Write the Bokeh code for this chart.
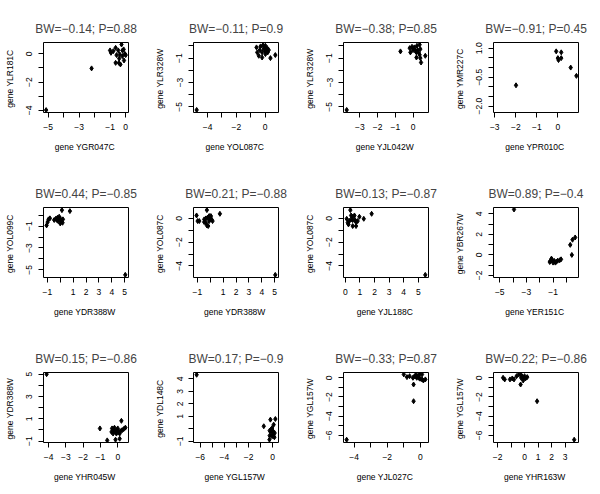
from bokeh.plotting import figure
from bokeh.layouts import column, row
from bokeh.models import Range1d, FixedTicker
from bokeh.embed import file_html
from bokeh.resources import INLINE

MINUS = "\u2212"
FONT = "Liberation Sans"

# ---------------- data ----------------
titles = ["BW=-0.14; P=0.88", "BW=-0.11; P=0.9", "BW=-0.38; P=0.85", "BW=-0.91; P=0.45",
          "BW=0.44; P=-0.85", "BW=0.21; P=-0.88", "BW=0.13; P=-0.87", "BW=0.89; P=-0.4",
          "BW=0.15; P=-0.86", "BW=0.17; P=-0.9", "BW=-0.33; P=0.87", "BW=0.22; P=-0.86"]
xlabels = ["gene  YGR047C", "gene  YOL087C", "gene  YJL042W", "gene  YPR010C",
           "gene  YDR388W", "gene  YDR388W", "gene  YJL188C", "gene  YER151C",
           "gene  YHR045W", "gene  YGL157W", "gene  YJL027C", "gene  YHR163W"]
ylabels = ["gene  YLR181C", "gene  YLR328W", "gene  YLR328W", "gene  YMR227C",
           "gene  YOL099C", "gene  YOL087C", "gene  YOL087C", "gene  YBR267W",
           "gene  YDR388W", "gene  YDL148C", "gene  YGL157W", "gene  YGL157W"]

p1_x = [-5.13, -2.20, -1.01, -0.95, -0.80, -0.65, -0.48, -0.27, -0.13, -0.06, -0.38, -0.59, -0.21, 0.00, -0.42, -0.65, -0.44, -0.34, -0.11, -0.21]
p1_y = [-3.98, -1.03, 0.24, 0.07, 0.19, 0.42, 0.24, 0.66, 0.31, 0.00, -0.05, -0.09, -0.16, -0.09, -0.33, -0.64, -0.64, -0.75, -0.47, 0.24]
p2_x = [-4.76, -0.60, -0.32, -0.14, 0.02, 0.14, 0.25, -0.09, -0.37, -0.55, -0.21, 0.02, 0.18, -0.44, -0.21, 0.02, 0.37, 0.71, -0.05, 0.09]
p2_y = [-5.25, -0.12, -0.04, 0.07, 0.01, -0.18, -0.34, -0.26, -0.34, -0.53, -0.53, -0.45, -0.53, -0.81, -0.95, -0.67, -1.00, -0.75, -0.12, -0.34]
p3_x = [-3.74, -0.71, -0.19, -0.06, 0.07, 0.22, 0.37, 0.41, 0.26, 0.13, -0.15, 0.00, 0.19, 0.32, 0.37, 0.19, 0.41, 0.69, 0.45, 0.04]
p3_y = [-5.25, -0.45, -0.18, -0.07, -0.12, 0.01, 0.10, -0.26, -0.34, -0.40, -0.53, -0.34, -0.53, -0.53, -0.73, -0.95, -1.00, -0.81, -1.36, -0.21]
p4_x = [-1.99, -0.08, 0.16, 0.00, 0.03, 0.16, 0.61, 0.88]
p4_y = [-0.92, 0.84, 0.79, 0.49, 0.39, 0.49, 0.00, -0.43]
p5_x = [5.05, -1.06, -0.98, -0.91, -0.80, -0.47, -0.34, -0.21, -0.08, 0.00, 0.10, 0.18, -0.16, -0.26, 0.05, 0.13, 0.75, -0.05, 0.21, 0.00]
p5_y = [-5.45, -0.94, -0.64, -0.39, -0.30, -0.45, -0.33, -0.24, -0.15, -0.33, -0.55, -0.70, -0.55, -0.45, -0.45, 0.45, 0.36, -0.39, -0.39, -0.76]
p6_x = [5.05, -1.06, -0.98, -0.85, -0.26, 0.75, -0.47, -0.34, -0.21, -0.08, 0.00, 0.10, 0.18, -0.34, -0.26, -0.16, -0.08, -0.47, 0.05]
p6_y = [-4.75, 0.25, -0.22, -0.22, 0.70, 0.39, -0.08, 0.00, 0.06, 0.20, 0.06, -0.08, -0.22, -0.36, -0.59, -0.64, -0.22, -0.31, 0.20]
p7_x = [5.48, 0.09, 0.16, 0.34, 0.39, 0.50, 0.62, 0.27, 0.39, 0.50, 0.66, 0.73, 0.84, 0.50, 0.73, 0.96, 1.26, 1.80, 0.21]
p7_y = [-4.75, -0.03, -0.36, 0.70, 0.25, 0.14, 0.25, -0.22, -0.08, -0.14, -0.14, -0.31, -0.22, -0.64, -0.64, 0.14, -0.03, 0.39, -0.50]
p8_x = [-3.93, 0.29, 0.46, 0.66, 0.41, -1.25, -1.12, -1.00, -0.90, -0.75, -0.65, -0.50, -0.40, -1.07, -1.20, -0.83]
p8_y = [4.43, 0.98, 1.48, 1.70, 0.00, -0.69, -0.36, -0.75, -0.59, -0.66, -0.56, -0.52, -0.43, -0.49, -0.59, -0.75]
p9_x = [-4.11, -1.03, -0.61, -0.13, 0.11, 0.21, 0.44, -0.33, -0.23, -0.13, -0.04, 0.06, 0.15, 0.25, 0.34, -0.27, -0.08, 0.11, -0.36, -0.19, 0.00]
p9_y = [5.00, 0.14, -0.93, -0.87, -0.78, 0.82, 0.21, 0.14, -0.02, -0.17, -0.02, -0.17, -0.11, -0.02, 0.08, -0.32, -0.32, -0.32, -0.17, 0.20, 0.14]
p10_x = [-6.30, -0.74, -0.19, 0.22, 0.08, -0.05, -0.25, -0.14, 0.03, 0.16, -0.25, -0.05, 0.14, -0.27, 0.03, -0.14]
p10_y = [4.32, 0.20, 0.73, 0.78, 0.33, 0.06, -0.15, -0.28, -0.20, -0.34, -0.55, -0.60, -0.68, -0.87, -0.47, -0.07]
p11_x = [-4.45, -1.00, -0.81, -0.65, -0.41, -0.41, -0.35, -0.26, -0.16, -0.06, -0.22, -0.10, -0.02, 0.10, 0.10, 0.18, 0.30, -0.45]
p11_y = [-6.45, 0.35, 0.07, 0.17, -0.70, -2.44, 0.17, 0.28, 0.17, 0.35, 0.00, 0.00, -0.10, 0.35, -0.17, -0.28, -0.17, 0.00]
p12_x = [3.68, 0.93, -0.29, -1.59, -1.47, -1.08, -0.91, -0.78, -0.59, -0.42, -0.25, -0.17, -0.10, 0.00, 0.07, 0.20, -0.10, -0.25]
p12_y = [-6.45, -2.44, -0.70, 0.00, -0.17, -0.17, -0.07, -0.17, 0.17, 0.35, 0.28, 0.10, 0.00, 0.17, -0.07, 0.07, -0.28, 0.00]

xs_all = [p1_x, p2_x, p3_x, p4_x, p5_x, p6_x, p7_x, p8_x, p9_x, p10_x, p11_x, p12_x]
ys_all = [p1_y, p2_y, p3_y, p4_y, p5_y, p6_y, p7_y, p8_y, p9_y, p10_y, p11_y, p12_y]

xlims = [(-5.30, 0.18), (-4.98, 0.93), (-3.92, 0.87), (-3.06, 0.98),
         (-1.30, 5.30), (-1.30, 5.30), (-0.13, 5.70), (-5.47, 0.91),
         (-4.29, 0.62), (-6.56, 0.48), (-4.64, 0.49), (-2.30, 4.00)]
ylims = [(-4.15, 0.80), (-5.46, 0.28), (-5.46, 0.28), (-2.33, 1.30),
         (-5.69, 0.69), (-4.97, 0.92), (-4.97, 0.92), (-2.20, 4.62),
         (-1.12, 5.15), (-1.10, 4.50), (-6.74, 0.55), (-6.74, 0.55)]

xticks = [[-5, -4, -3, -2, -1, 0], [-4, -3, -2, -1, 0], [-3, -2, -1, 0], [-3, -2, -1, 0],
          [-1, 0, 1, 2, 3, 4, 5], [-1, 0, 1, 2, 3, 4, 5], [0, 1, 2, 3, 4, 5], [-5, -4, -3, -2, -1, 0],
          [-4, -3, -2, -1, 0], [-6, -5, -4, -3, -2, -1, 0], [-4, -3, -2, -1, 0], [-2, -1, 0, 1, 2, 3]]
xticklabels = [["-5", "", "-3", "", "-1", "0"], ["-4", "", "-2", "", "0"], ["-3", "-2", "-1", "0"], ["-3", "-2", "-1", "0"],
               ["-1", "", "1", "2", "3", "4", "5"], ["-1", "", "1", "2", "3", "4", "5"], ["0", "1", "2", "3", "4", "5"], ["-5", "", "-3", "", "-1", ""],
               ["-4", "-3", "-2", "-1", "0"], ["-6", "", "-4", "", "-2", "", "0"], ["-4", "", "-2", "", "0"], ["-2", "", "0", "1", "2", "3"]]
yticks = [[-4, -3, -2, -1, 0], [-5, -4, -3, -2, -1, 0], [-5, -4, -3, -2, -1, 0], [-2.0, -1.5, -1.0, -0.5, 0.0, 0.5, 1.0],
          [-5, -4, -3, -2, -1, 0], [-4, -3, -2, -1, 0], [-4, -3, -2, -1, 0], [-2, -1, 0, 1, 2, 3, 4],
          [-1, 0, 1, 2, 3, 4, 5], [-1, 0, 1, 2, 3, 4], [-6, -5, -4, -3, -2, -1, 0], [-6, -5, -4, -3, -2, -1, 0]]
yticklabels = [["-4", "", "-2", "", "0"], ["-5", "", "-3", "", "-1", ""], ["-5", "", "-3", "", "-1", ""], ["-2.0", "", "", "-0.5", "", "", "1.0"],
               ["-5", "", "-3", "", "-1", ""], ["-4", "", "-2", "", "0"], ["-4", "", "-2", "", "0"], ["-2", "", "0", "", "2", "", "4"],
               ["-1", "", "1", "", "3", "", "5"], ["-1", "", "1", "2", "3", "4"], ["-6", "", "-4", "", "-2", "", "0"], ["-6", "", "-4", "", "-2", "", "0"]]

# ---------------- layout ----------------
BOX_W, BOX_H = 85, 70
LEFT, TOP = 43, 42


def style_axis(ax):
    ax.axis_line_color = None
    ax.major_tick_line_color = "black"
    ax.major_tick_in = 0
    ax.major_tick_out = 5
    ax.minor_tick_line_color = None
    ax.major_label_text_font = FONT
    ax.major_label_text_font_size = "8.5px"
    ax.major_label_text_color = "black"
    ax.major_label_standoff = 6
    ax.axis_label_text_font = FONT
    ax.axis_label_text_font_size = "8.5px"
    ax.axis_label_text_font_style = "normal"
    ax.axis_label_text_color = "black"
    ax.axis_label_standoff = 9


def panel(i, w, h):
    p = figure(width=w, height=h, output_backend="svg", toolbar_location=None,
               x_range=Range1d(*xlims[i]), y_range=Range1d(*ylims[i]),
               min_border_left=LEFT, min_border_right=w - LEFT - BOX_W,
               min_border_top=TOP, min_border_bottom=h - TOP - BOX_H)
    p.title.text = titles[i].replace("-", MINUS)
    p.title.align = "center"
    p.title.text_font = FONT
    p.title.text_font_size = "12px"
    p.title.text_font_style = "normal"
    p.title.standoff = 13
    p.grid.visible = False
    p.outline_line_color = "black"
    p.outline_line_width = 1
    p.background_fill_color = "white"
    p.border_fill_color = "white"
    p.xaxis.axis_label = xlabels[i]
    p.yaxis.axis_label = ylabels[i]
    style_axis(p.xaxis[0])
    style_axis(p.yaxis[0])
    p.xaxis.ticker = FixedTicker(ticks=xticks[i])
    p.yaxis.ticker = FixedTicker(ticks=yticks[i])
    p.xaxis.major_label_overrides = {float(t): s.replace("-", MINUS) for t, s in zip(xticks[i], xticklabels[i])}
    p.yaxis.major_label_overrides = {float(t): s.replace("-", MINUS) for t, s in zip(yticks[i], yticklabels[i])}
    p.yaxis.major_label_orientation = "vertical"
    p.scatter(xs_all[i], ys_all[i], marker="diamond", size=5, color="black")
    return p


rows = []
for r in range(3):
    figs = []
    for c in range(4):
        i = r * 4 + c
        w = 142 if c == 3 else 150
        h = 156 if r == 2 else 165
        figs.append(panel(i, w, h))
    rows.append(row(*figs))

layout = column(*rows)

open("out.html", "w").write(file_html(layout, INLINE))
